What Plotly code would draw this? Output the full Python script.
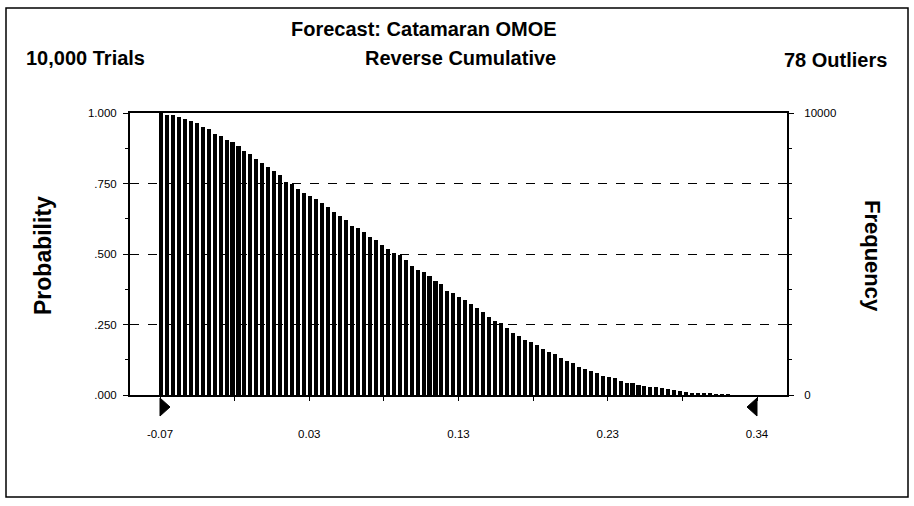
import plotly.graph_objects as go

# ---- data ----
bin_start = -0.07
bin_end = 0.34
n_bins = 100
probability = [
    1.000, 0.994, 0.992, 0.986, 0.980, 0.971, 0.963, 0.951, 0.943, 0.926,
    0.919, 0.905, 0.898, 0.883, 0.867, 0.853, 0.838, 0.824, 0.810, 0.793,
    0.780, 0.756, 0.749, 0.729, 0.716, 0.706, 0.695, 0.680, 0.665, 0.650,
    0.636, 0.621, 0.598, 0.591, 0.577, 0.562, 0.548, 0.532, 0.518, 0.502,
    0.495, 0.479, 0.459, 0.443, 0.436, 0.421, 0.406, 0.393, 0.369, 0.363,
    0.348, 0.337, 0.323, 0.309, 0.294, 0.278, 0.263, 0.255, 0.236, 0.219,
    0.210, 0.195, 0.187, 0.176, 0.162, 0.152, 0.144, 0.130, 0.122, 0.114,
    0.100, 0.092, 0.084, 0.078, 0.066, 0.063, 0.059, 0.050, 0.044, 0.041,
    0.037, 0.032, 0.029, 0.027, 0.024, 0.020, 0.018, 0.014, 0.012, 0.008,
    0.007, 0.005, 0.004, 0.003, 0.002, 0.001,
]
x_tick_labels = ["-0.07", "0.03", "0.13", "0.23", "0.34"]
prob_tick_labels = [".000", ".250", ".500", ".750", "1.000"]
prob_tick_vals = [0, 0.25, 0.5, 0.75, 1.0]
freq_tick_labels = ["0", "10000"]
freq_tick_vals = [0, 10000]
title_text = "Forecast: Catamaran OMOE"
trials_text = "10,000 Trials"
view_text = "Reverse Cumulative"
outliers_text = "78 Outliers"

bw = (bin_end - bin_start) / n_bins
xs = [bin_start + i * bw + 0.0006 for i in range(len(probability))]

W, H = 914, 506
L, R, T, B = 130, 127, 113, 111
FONT = "Liberation Sans, Arial, sans-serif"
PX_PER_X = 1456.0  # pixels per x unit

fig = go.Figure()
fig.add_trace(go.Bar(x=xs, y=probability, width=bw * 0.68,
                     marker=dict(color="black", line=dict(width=0)),
                     showlegend=False, hoverinfo="skip"))
# secondary (frequency) axis carrier
fig.add_trace(go.Scatter(x=[None], y=[None], yaxis="y2", showlegend=False))

span = bin_end - bin_start
label_vals = [bin_start + i * span / 4 for i in range(5)]
minor_vals = [bin_start + i * span / 8 for i in range(9)]

fig.update_layout(
    width=W, height=H,
    margin=dict(l=L, r=R, t=T, b=B, autoexpand=False),
    paper_bgcolor="white", plot_bgcolor="white",
    bargap=0,
    font=dict(family=FONT, color="black"),
    xaxis=dict(range=[bin_start - 30 / PX_PER_X, bin_end + 30 / PX_PER_X],
               tickmode="array", tickvals=label_vals, ticktext=x_tick_labels,
               ticks="outside", ticklen=4, tickcolor="black", tickwidth=1,
               minor=dict(tickmode="array", tickvals=minor_vals, ticks="outside",
                          ticklen=4, tickcolor="black"),
               showgrid=False, zeroline=False, automargin=False,
               showline=True, linecolor="black", linewidth=2, mirror=True,
               tickfont=dict(size=11.5, family=FONT), ticklabelstandoff=23),
    yaxis=dict(range=[0, 1.0], tickmode="array", tickvals=prob_tick_vals,
               ticktext=prob_tick_labels, ticks="outside", ticklen=5,
               tickcolor="black", automargin=False,
               minor=dict(tickmode="array", tickvals=[0.125, 0.375, 0.625, 0.875],
                          ticks="outside", ticklen=3, tickcolor="black"),
               showgrid=True, gridcolor="black", gridwidth=1, griddash="dash",
               zeroline=False, showline=True, linecolor="black", linewidth=2,
               tickfont=dict(size=11.5, family=FONT), ticklabelstandoff=4),
    yaxis2=dict(range=[0, 10000], overlaying="y", side="right", automargin=False,
                tickmode="array", tickvals=freq_tick_vals, ticktext=freq_tick_labels,
                ticks="outside", ticklen=5, tickcolor="black",
                minor=dict(tickmode="array",
                           tickvals=[1250 * i for i in range(1, 8)],
                           ticks="outside", ticklen=3, tickcolor="black"),
                showgrid=False, zeroline=False, showline=True, linecolor="black",
                linewidth=2, tickfont=dict(size=11.5, family=FONT),
                ticklabelstandoff=8),
)

def px_x(p):
    return (p - L) / (W - L - R)

def px_y(p):
    return (H - B - p) / (H - T - B)

# end-point triangles below the axis
tw = 10 / PX_PER_X
ya, yb = px_y(398), px_y(416)
ym = (ya + yb) / 2
fig.add_shape(type="path", xref="x", yref="paper",
              path=f"M {bin_start},{ya} L {bin_start},{yb} L {bin_start + tw},{ym} Z",
              fillcolor="black", line=dict(color="black", width=1))
fig.add_shape(type="path", xref="x", yref="paper",
              path=f"M {bin_end},{ya} L {bin_end},{yb} L {bin_end - tw},{ym} Z",
              fillcolor="black", line=dict(color="black", width=1))

ann = [
    dict(text=title_text, x=px_x(424), y=px_y(29)),
    dict(text=trials_text, x=px_x(85), y=px_y(58)),
    dict(text=view_text, x=px_x(460), y=px_y(58)),
    dict(text=outliers_text, x=px_x(835), y=px_y(60)),
]
for a in ann:
    fig.add_annotation(text="<b>%s</b>" % a["text"], x=a["x"], y=a["y"],
                       xref="paper", yref="paper", showarrow=False,
                       xanchor="center", yanchor="middle",
                       font=dict(size=20, family=FONT, color="black"))
fig.add_annotation(text="<b>Probability</b>", x=px_x(43), y=px_y(256), xref="paper",
                   yref="paper", showarrow=False, textangle=-90,
                   xanchor="center", yanchor="middle",
                   font=dict(size=23, family=FONT, color="black"))
fig.add_annotation(text="<b>Frequency</b>", x=px_x(873), y=px_y(256), xref="paper",
                   yref="paper", showarrow=False, textangle=90,
                   xanchor="center", yanchor="middle",
                   font=dict(size=22, family=FONT, color="black"))

# outer frame
fig.add_shape(type="rect", xref="paper", yref="paper",
              x0=px_x(6), x1=px_x(908), y0=px_y(497), y1=px_y(8),
              line=dict(color="black", width=1.5), fillcolor="rgba(0,0,0,0)")

fig.write_html("out.html", config={"displayModeBar": False},
               post_script="document.body.style.margin='0';document.body.style.overflow='hidden';")
